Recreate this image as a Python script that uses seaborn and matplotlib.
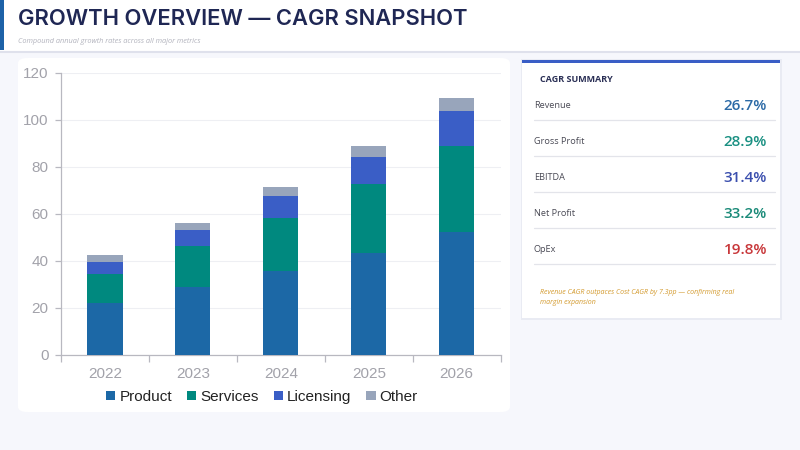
import numpy as np
import pandas as pd
import matplotlib.pyplot as plt
import seaborn as sns
from matplotlib.patches import FancyBboxPatch, Rectangle, Patch
from matplotlib.lines import Line2D

# data
years = ['2022', '2023', '2024', '2025', '2026']
product = [22.0, 28.7, 35.6, 43.3, 52.2]
services = [12.2, 17.7, 22.7, 29.2, 36.6]
licensing = [5.2, 6.6, 9.2, 11.5, 14.9]
other = [2.9, 3.2, 3.8, 4.9, 5.7]
segments = ['Product', 'Services', 'Licensing', 'Other']
seg_colors = ['#1c68a6', '#00897f', '#3a5ec6', '#98a5bb']

metrics = ['Revenue', 'Gross Profit', 'EBITDA', 'Net Profit', 'OpEx']
cagr = [26.7, 28.9, 31.4, 33.2, 19.8]
cagr_colors = ['#2c6aa6', '#1a9082', '#3b4fae', '#1a8a78', '#c8373a']

W, H = 800, 450
BG = '#f6f7fc'

sns.set_theme(style='white')
plt.rcParams['font.family'] = ['Liberation Sans', 'DejaVu Sans']

fig = plt.figure(figsize=(8, 4.5), dpi=100)
fig.patch.set_facecolor(BG)


def fx(x):
    return x / W


def fy(y):
    return 1 - y / H


# header band
fig.patches.append(Rectangle((0, fy(51)), 1, 51 / H, transform=fig.transFigure,
                             facecolor='white', edgecolor='none', zorder=-2))
fig.add_artist(Line2D([0, 1], [fy(51.5), fy(51.5)], transform=fig.transFigure,
                      color='#dfe1ec', lw=1.5, zorder=-1))
fig.patches.append(Rectangle((0, fy(50)), 4 / W, 50 / H, transform=fig.transFigure,
                             facecolor='#1d62a8', edgecolor='none', zorder=-1))
fig.text(fx(18), fy(19), 'GROWTH OVERVIEW — CAGR SNAPSHOT', family=['Inter', 'DejaVu Sans'],
         fontsize=15.8, fontweight='semibold', color='#1f2754', va='center')
fig.text(fx(18), fy(41.5), 'Compound annual growth rates across all major metrics',
         family=['Open Sans', 'DejaVu Sans'], fontsize=5.3, style='italic',
         color='#b2b3bd', va='center')

# chart panel
fig.patches.append(FancyBboxPatch((fx(18), fy(412)), fx(492), 354 / H,
                                  boxstyle='round,pad=0,rounding_size=0.012',
                                  transform=fig.transFigure, facecolor='white',
                                  edgecolor='none', zorder=-2))

ax = fig.add_axes([fx(61), fy(354.7), fx(500.7 - 61), (354.7 - 72.7) / H])
ax.set_zorder(2)
ax.set_facecolor('white')

df = pd.DataFrame({'year': years, 'Product': product, 'Services': services,
                   'Licensing': licensing, 'Other': other})
cum = df[segments].cumsum(axis=1)
for seg, col in reversed(list(zip(segments, seg_colors))):
    sns.barplot(x=df['year'], y=cum[seg], color=col, width=0.4, ax=ax,
                saturation=1, edgecolor='none', linewidth=0, zorder=3)

ax.set_ylim(0, 120)
ax.set_xlim(-0.5, len(years) - 0.5)
ax.set_yticks(range(0, 121, 20))
ax.set_xlabel('')
ax.set_ylabel('')
ax.grid(axis='y', color='#eeeff3', lw=0.8, zorder=0)
ax.set_axisbelow(True)
for s in ['top', 'right']:
    ax.spines[s].set_visible(False)
for s in ['left', 'bottom']:
    ax.spines[s].set_color('#b8b8c0')
    ax.spines[s].set_linewidth(0.9)
ax.set_xticks(np.arange(-0.5, len(years), 1.0), minor=True)
ax.tick_params(axis='x', which='major', length=0, pad=9, labelsize=11, labelcolor='#a2a2aa')
ax.tick_params(axis='x', which='minor', length=5, width=0.9, color='#b8b8c0', bottom=True)
ax.tick_params(axis='y', length=4, width=0.9, color='#b8b8c0', left=True,
               labelsize=11, labelcolor='#a2a2aa', pad=5)

handles = [Patch(facecolor=c, edgecolor='none', label=s) for s, c in zip(segments, seg_colors)]
fig.legend(handles=handles, loc='center', bbox_to_anchor=(fx(262), fy(397)), ncol=4,
           frameon=False, fontsize=11, handlelength=0.6, handleheight=0.6,
           handletextpad=0.25, columnspacing=1.0, labelcolor='#222222')

# summary card
fig.patches.append(Rectangle((fx(521), fy(320)), fx(261), 261 / H, transform=fig.transFigure,
                             facecolor='#e9ebf3', edgecolor='none', zorder=-2))
fig.patches.append(Rectangle((fx(522), fy(318)), fx(258), 258 / H, transform=fig.transFigure,
                             facecolor='white', edgecolor='none', zorder=-1))
fig.patches.append(Rectangle((fx(522), fy(63)), fx(258), 3 / H, transform=fig.transFigure,
                             facecolor='#3a5ec6', edgecolor='none', zorder=0))
card_font = ['Open Sans', 'DejaVu Sans']
fig.text(fx(540), fy(79), 'CAGR SUMMARY', family=card_font, fontsize=6.5,
         fontweight='bold', color='#2a2f55', va='center')
for i, (m, v, c) in enumerate(zip(metrics, cagr, cagr_colors)):
    yc = 106 + 36 * i
    fig.text(fx(534), fy(yc), m, family=card_font, fontsize=6.6, color='#4a4a55', va='center')
    fig.text(fx(767), fy(yc), f'{v:.1f}%', family=card_font, fontsize=11,
             fontweight='semibold', color=c, va='center', ha='right')
    fig.add_artist(Line2D([fx(534), fx(775)], [fy(yc + 13.5), fy(yc + 13.5)],
                          transform=fig.transFigure, color='#e3e4ea', lw=0.9))
fig.text(fx(540), fy(293), 'Revenue CAGR outpaces Cost CAGR by 7.3pp — confirming real',
         family=card_font, fontsize=5.0, style='italic', color='#d39a2e', va='center')
fig.text(fx(540), fy(302), 'margin expansion', family=card_font, fontsize=5.0,
         style='italic', color='#d39a2e', va='center')

fig.savefig('out.png', dpi=100, facecolor=BG)
